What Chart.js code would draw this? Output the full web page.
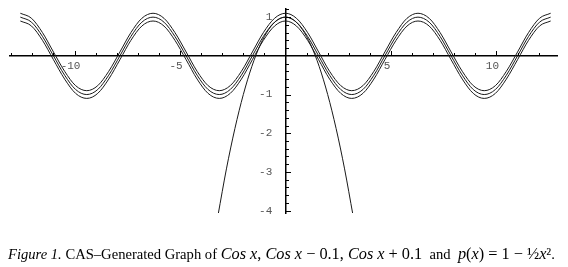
<!DOCTYPE html>
<html><head><meta charset="utf-8">
<script src="https://cdn.jsdelivr.net/npm/chart.js@4"></script>
<style>
html,body{margin:0;padding:0;background:#fff;width:568px;height:267px;overflow:hidden}
#wrap{position:absolute;left:0;top:0;width:568px;height:267px}
#cap{position:absolute;left:8px;top:245px;font-family:"Liberation Serif",serif;font-size:14.6px;white-space:nowrap;color:#000;line-height:17px}
#cap .m{font-size:16.3px}
</style></head><body>
<div id="wrap"><canvas id="c" width="568" height="267"></canvas></div>
<div id="cap"><i>Figure 1.</i> CAS–Generated Graph of <span class="m"><i>Cos x</i>, <i>Cos x</i> − 0.1, <i>Cos x</i> + 0.1</span>&nbsp; and &nbsp;<span class="m"><i>p</i>(<i>x</i>) = 1 − ½<i>x</i>²</span>.</div>
<script>
const xValues = [-12.57,-12.04,-11.52,-11.00,-10.47,-9.95,-9.42,-8.90,-8.38,-7.85,-7.33,-6.81,
  -6.28,-5.76,-5.24,-4.71,-4.19,-3.67,-3.14,-2.62,-2.09,-1.57,-1.05,-0.52,
  0,0.52,1.05,1.57,2.09,2.62,3.14,3.67,4.19,4.71,5.24,5.76,
  6.28,6.81,7.33,7.85,8.38,8.90,9.42,9.95,10.47,11.00,11.52,12.04,12.57];
const cosValues = [1,0.87,0.5,0,-0.5,-0.87,-1,-0.87,-0.5,0,0.5,0.87,
  1,0.87,0.5,0,-0.5,-0.87,-1,-0.87,-0.5,0,0.5,0.87,
  1,0.87,0.5,0,-0.5,-0.87,-1,-0.87,-0.5,0,0.5,0.87,
  1,0.87,0.5,0,-0.5,-0.87,-1,-0.87,-0.5,0,0.5,0.87,1];
const cosMinusValues = [0.9,0.77,0.4,-0.1,-0.6,-0.97,-1.1,-0.97,-0.6,-0.1,0.4,0.77,
  0.9,0.77,0.4,-0.1,-0.6,-0.97,-1.1,-0.97,-0.6,-0.1,0.4,0.77,
  0.9,0.77,0.4,-0.1,-0.6,-0.97,-1.1,-0.97,-0.6,-0.1,0.4,0.77,
  0.9,0.77,0.4,-0.1,-0.6,-0.97,-1.1,-0.97,-0.6,-0.1,0.4,0.77,0.9];
const cosPlusValues = [1.1,0.97,0.6,0.1,-0.4,-0.77,-0.9,-0.77,-0.4,0.1,0.6,0.97,
  1.1,0.97,0.6,0.1,-0.4,-0.77,-0.9,-0.77,-0.4,0.1,0.6,0.97,
  1.1,0.97,0.6,0.1,-0.4,-0.77,-0.9,-0.77,-0.4,0.1,0.6,0.97,
  1.1,0.97,0.6,0.1,-0.4,-0.77,-0.9,-0.77,-0.4,0.1,0.6,0.97,1.1];
const parabolaX = [-3.2,-2.8,-2.4,-2.0,-1.6,-1.2,-0.8,-0.4,0,0.4,0.8,1.2,1.6,2.0,2.4,2.8,3.2];
const parabolaY = [-4.12,-2.92,-1.88,-1.00,-0.28,0.28,0.68,0.92,1.00,0.92,0.68,0.28,-0.28,-1.00,-1.88,-2.92,-4.12];
const xTickLabels = [-10,-5,5,10];
const yTickLabels = [-4,-3,-2,-1,1];

function pts(xs, ys){ return xs.map((x,i)=>({x:x, y:ys[i]})); }

const lineStyle = {borderColor:'#1a1a1a', borderWidth:1, pointRadius:0, fill:false, cubicInterpolationMode:'monotone'};

const tickPlugin = {
  id:'axisTicks',
  afterDraw(chart){
    const {ctx, scales:{x, y}} = chart;
    const y0 = Math.round(y.getPixelForValue(0));
    const x0 = Math.round(x.getPixelForValue(0));
    ctx.save();
    ctx.strokeStyle = '#000';
    ctx.lineWidth = 1;
    ctx.beginPath();
    for (let v = Math.ceil(x.min); v <= Math.floor(x.max); v++) {
      if (v === 0) continue;
      const px = Math.round(x.getPixelForValue(v)) + 0.5;
      const len = (v % 5 === 0) ? 5 : 3;
      ctx.moveTo(px, y0); ctx.lineTo(px, y0 - len);
    }
    for (let i = Math.ceil(y.min * 5); i <= Math.floor(y.max * 5); i++) {
      if (i === 0) continue;
      const py = Math.round(y.getPixelForValue(i / 5)) + 0.5;
      const len = (i % 5 === 0) ? 5 : 3;
      ctx.moveTo(x0, py); ctx.lineTo(x0 + len, py);
    }
    ctx.stroke();
    ctx.restore();
  }
};

new Chart(document.getElementById('c'), {
  type: 'line',
  data: {
    datasets: [
      Object.assign({label:'Cos x + 0.1', data: pts(xValues, cosPlusValues)}, lineStyle),
      Object.assign({label:'Cos x', data: pts(xValues, cosValues)}, lineStyle),
      Object.assign({label:'Cos x - 0.1', data: pts(xValues, cosMinusValues)}, lineStyle),
      Object.assign({label:'p(x) = 1 - x^2/2', data: pts(parabolaX, parabolaY)}, lineStyle)
    ]
  },
  options: {
    responsive: false,
    animation: false,
    devicePixelRatio: 1,
    layout: {padding: {left: 10, right: 11, top: 9, bottom: 54}},
    plugins: {legend: {display: false}, tooltip: {enabled: false}, title: {display: false}},
    scales: {
      x: {
        type: 'linear',
        min: -13.06, max: 12.87,
        position: {y: 0},
        border: {display: true, color: '#000', width: 1.5},
        grid: {display: true, drawOnChartArea: false, drawTicks: false},
        afterBuildTicks: (s) => { s.ticks = xTickLabels.map(v => ({value: v})); },
        ticks: {
          autoSkip: false, maxRotation: 0, padding: 4, labelOffset: -4,
          color: '#555', font: {family: 'Liberation Mono', size: 11},
          callback: (v) => String(v)
        }
      },
      y: {
        type: 'linear',
        min: -4.06, max: 1.21,
        position: {x: 0},
        border: {display: true, color: '#000', width: 1.5},
        grid: {display: true, drawOnChartArea: false, drawTicks: false},
        afterBuildTicks: (s) => { s.ticks = yTickLabels.map(v => ({value: v})); },
        ticks: {
          autoSkip: false, padding: 0,
          color: '#555', font: {family: 'Liberation Mono', size: 11},
          callback: (v) => String(v) + '\u00a0\u00a0'
        }
      }
    }
  },
  plugins: [tickPlugin]
});
</script>
</body></html>
